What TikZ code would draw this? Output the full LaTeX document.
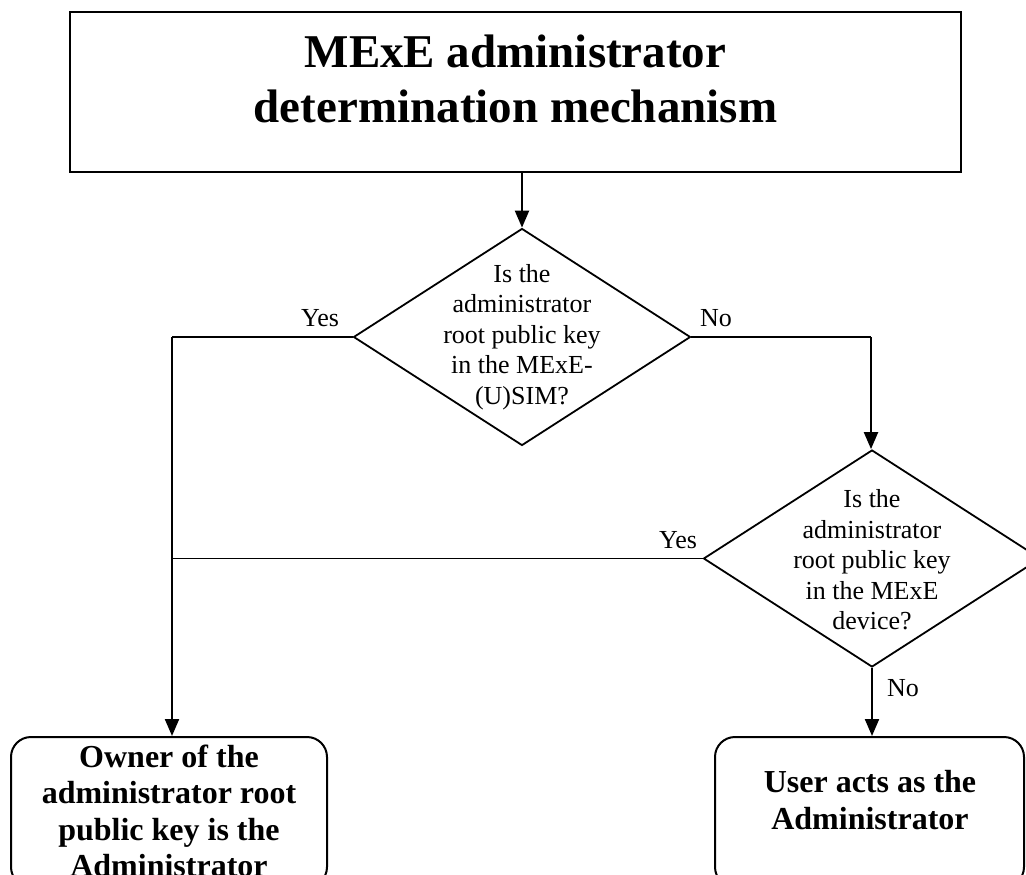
\documentclass[tikz,border=0pt]{standalone}
\usepackage{fontspec}
\setmainfont{Liberation Serif}
\usetikzlibrary{shapes.geometric,arrows.meta}
\begin{document}
\begin{tikzpicture}[x=1pt,y=-1pt,
  titlebox/.style={draw, line width=2pt, minimum width=891pt, minimum height=160pt, inner sep=0pt},
  titletext/.style={font=\fontsize{47}{55}\selectfont\bfseries, align=center, inner sep=0pt},
  decision/.style={draw, diamond, line width=1.8pt, minimum width=337pt, minimum height=217pt, inner sep=0pt},
  qtext/.style={font=\fontsize{26}{30.5}\selectfont, align=center, inner sep=0pt},
  endbox/.style={draw, rounded corners=20pt, line width=2pt, inner sep=0pt, minimum height=150pt},
  endtext/.style={font=\fontsize{32}{36.5}\selectfont\bfseries, align=center, inner sep=0pt},
  lbl/.style={font=\fontsize{26}{30}\selectfont, inner sep=0pt},
  thinline/.style={line width=1.4pt},
  arr/.style={line width=2.2pt, -{Triangle[length=17pt,width=14pt]}},
]
\useasboundingbox (0,0) rectangle (1026,875);
\clip (0,0) rectangle (1026,875);
\fill[white] (0,0) rectangle (1026,875);

\node[titlebox] (title) at (515.5,92) {};
\node[titletext] (titlet) at (515.5,79) {MExE administrator\\determination mechanism};

\node[decision] (d1) at (522,337) {};
\node[qtext] (d1t) at (522,337) {Is the\\administrator\\root public key\\in the MExE-\\(U)SIM?};

\node[decision] (d2) at (872,558.5) {};
\node[qtext] (d2t) at (872,560) {Is the\\administrator\\root public key\\in the MExE\\device?};

\node[endbox, minimum width=316pt] (lbox) at (169,812) {};
\node[endtext] (lboxt) at (169,811) {Owner of the\\administrator root\\public key is the\\Administrator};

\node[endbox, minimum width=309pt] (rbox) at (869.5,812) {};
\node[endtext] (rboxt) at (870,800) {User acts as the\\Administrator};

\coordinate (lc) at (172,337);
\coordinate (rc) at (871,337);

\draw[arr] (title.south -| d1.north) -- (d1.north);
\draw[thinline] (d1.west) -- (lc);
\draw[arr] (lc) -- (lc |- lbox.north);
\draw[thinline] (d1.east) -- (rc);
\draw[arr] (rc) -- (rc |- d2.north);
\draw[thinline] (d2.west) -- (d2.west -| lc);
\draw[arr] (d2.south) -- (d2.south |- rbox.north);

\node[lbl] (yes1) at (320,318) {Yes};
\node[lbl] (no1) at (716,318) {No};
\node[lbl] (yes2) at (678,540) {Yes};
\node[lbl] (no2) at (903,688) {No};
\end{tikzpicture}
\end{document}
